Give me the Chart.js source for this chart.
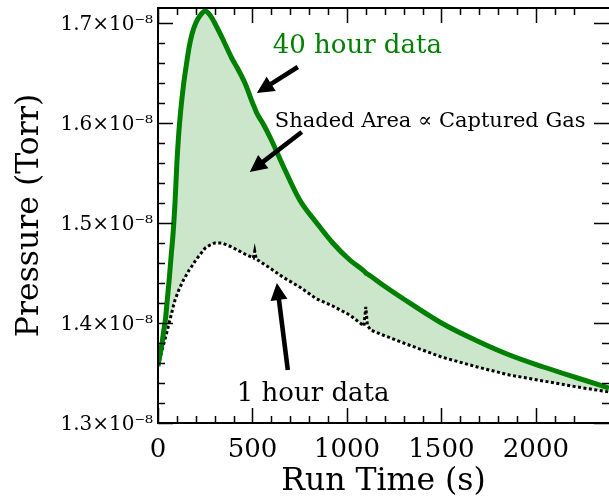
<!DOCTYPE html>
<html><head><meta charset="utf-8">
<script src="https://cdn.jsdelivr.net/npm/chart.js@4.4.1/dist/chart.umd.min.js"></script>
<style>html,body{margin:0;padding:0;background:#fff;}</style>
</head><body>
<canvas id="c" width="609" height="498"></canvas>
<script>
// Run time (s)
const runTime = [0,10,20,30,40,50,60,70,80,90,
  100,110,120,135,150,165,180,200,225,250,
  275,300,340,390,420,460,505,512,520,560,
  600,660,750,840,925,1015,1090,1100,1108,1125,
  1190,1300,1500,1690,1860,2040,2220,2387];
// Pressure, 40 hour data (×10^-8 Torr)
const pressure40h = [1.357,1.368,1.378,1.392,1.405,1.425,1.445,1.468,1.490,1.520,
  1.560,1.590,1.612,1.638,1.658,1.676,1.689,1.700,1.708,1.712,
  1.708,1.700,1.685,1.665,1.655,1.640,1.618,1.615,1.611,1.598,
  1.583,1.558,1.523,1.500,1.480,1.463,1.452,1.450,1.449,1.447,
  1.438,1.424,1.400,1.382,1.368,1.356,1.345,1.335];
// Pressure, 1 hour data (×10^-8 Torr)
const pressure1h = [1.357,1.364,1.372,1.379,1.386,1.393,1.401,1.408,1.416,1.423,
  1.428,1.433,1.437,1.443,1.448,1.453,1.457,1.463,1.469,1.475,
  1.478,1.480,1.480,1.476,1.473,1.469,1.465,1.472,1.464,1.459,
  1.454,1.446,1.436,1.424,1.417,1.408,1.397,1.416,1.398,1.393,
  1.388,1.380,1.366,1.356,1.348,1.342,1.336,1.331];

const xMajorTicks = [0,500,1000,1500,2000];
const xTickLabels = ['0','500','1000','1500','2000'];
const yMajorTicks = [1.3,1.4,1.5,1.6,1.7];
const yTickLabels = ['1.3×10⁻⁸','1.4×10⁻⁸','1.5×10⁻⁸','1.6×10⁻⁸','1.7×10⁻⁸'];

const notes = [
  {text:'40 hour data', t:607, p:1.670, color:'#008000', size:26},
  {text:'Shaded Area ∝ Captured Gas', t:618, p:1.596, color:'#000000', size:21},
  {text:'1 hour data', t:417, p:1.322, color:'#000000', size:26}
];
const arrows = [
  {from:[740,1.656], to:[523,1.630]},
  {from:[761,1.591], to:[486,1.551]},
  {from:[687,1.353], to:[629,1.440]}
];

const FONT = 'DejaVu Serif';
const near = (v, list) => list.findIndex(m => Math.abs(m - v) < 1e-6);

const framePlugin = {
  id: 'frame',
  afterDatasetsDraw(chart) {
    const {ctx, chartArea: a, scales: {x, y}} = chart;
    ctx.save();
    ctx.strokeStyle = '#000';
    ctx.lineWidth = 1.5;
    ctx.beginPath();
    x.ticks.forEach(t => {
      const px = Math.round(x.getPixelForValue(t.value)) + 0.5;
      const L = near(t.value, xMajorTicks) >= 0 ? 15 : 7;
      ctx.moveTo(px, a.bottom); ctx.lineTo(px, a.bottom - L);
      ctx.moveTo(px, a.top); ctx.lineTo(px, a.top + L);
    });
    y.ticks.forEach(t => {
      const py = Math.round(y.getPixelForValue(t.value)) + 0.5;
      const L = near(t.value, yMajorTicks) >= 0 ? 15 : 7;
      ctx.moveTo(a.left, py); ctx.lineTo(a.left + L, py);
      ctx.moveTo(a.right, py); ctx.lineTo(a.right - L, py);
    });
    ctx.stroke();
    ctx.lineWidth = 2;
    ctx.beginPath();
    ctx.moveTo(a.right + 5, a.top); ctx.lineTo(a.left, a.top);
    ctx.lineTo(a.left, a.bottom); ctx.lineTo(a.right + 5, a.bottom);
    ctx.stroke();
    // tick labels
    ctx.fillStyle = '#000';
    ctx.textBaseline = 'alphabetic';
    ctx.font = '20px "' + FONT + '"';
    ctx.textAlign = 'right';
    yMajorTicks.forEach((v, i) => ctx.fillText(yTickLabels[i], a.left - 5, y.getPixelForValue(v) + 7));
    ctx.font = '26px "' + FONT + '"';
    ctx.textAlign = 'center';
    xMajorTicks.forEach((v, i) => ctx.fillText(xTickLabels[i], x.getPixelForValue(v), a.bottom + 34));
    // arrows
    arrows.forEach(ar => {
      const x1 = x.getPixelForValue(ar.from[0]), y1 = y.getPixelForValue(ar.from[1]);
      const x2 = x.getPixelForValue(ar.to[0]), y2 = y.getPixelForValue(ar.to[1]);
      const ang = Math.atan2(y2 - y1, x2 - x1);
      const len = Math.hypot(x2 - x1, y2 - y1);
      const hl = 17, hw = 8.5, sw = 2.3;
      ctx.save();
      ctx.translate(x1, y1); ctx.rotate(ang);
      ctx.beginPath();
      ctx.moveTo(0, -sw); ctx.lineTo(len - hl, -sw); ctx.lineTo(len - hl, -hw);
      ctx.lineTo(len, 0); ctx.lineTo(len - hl, hw); ctx.lineTo(len - hl, sw); ctx.lineTo(0, sw);
      ctx.closePath(); ctx.fill();
      ctx.restore();
    });
    // notes
    ctx.textAlign = 'left';
    notes.forEach(n => {
      ctx.font = n.size + 'px "' + FONT + '"';
      ctx.fillStyle = n.color;
      ctx.fillText(n.text, x.getPixelForValue(n.t), y.getPixelForValue(n.p));
    });
    ctx.restore();
  }
};

new Chart(document.getElementById('c'), {
  type: 'scatter',
  data: {
    datasets: [
      {
        label: '40 hour data',
        data: runTime.map((t, i) => ({x: t, y: pressure40h[i]})),
        showLine: true,
        borderColor: '#008000',
        borderWidth: 5,
        pointRadius: 0,
        cubicInterpolationMode: 'monotone',
        backgroundColor: 'rgba(0,128,0,0.2)',
        fill: '+1'
      },
      {
        label: '1 hour data',
        data: runTime.map((t, i) => ({x: t, y: pressure1h[i]})),
        showLine: true,
        borderColor: '#000000',
        borderWidth: 3,
        borderDash: [3, 2.5],
        pointRadius: 0,
        tension: 0,
        fill: false
      }
    ]
  },
  options: {
    responsive: false,
    animation: false,
    devicePixelRatio: 1,
    layout: {padding: {left: 0, right: 0, top: 8, bottom: 0}},
    plugins: {
      legend: {display: false},
      tooltip: {enabled: false},
      filler: {drawTime: 'beforeDatasetsDraw'}
    },
    scales: {
      x: {
        type: 'linear', min: 0, max: 2387,
        grid: {display: false, drawTicks: false},
        border: {display: false},
        afterBuildTicks: s => { s.ticks = s.ticks.filter(t => Math.abs(t.value / 100 - Math.round(t.value / 100)) < 1e-6); },
        afterFit: s => { s.height = 75; },
        ticks: {stepSize: 100, autoSkip: false, display: false},
        title: {display: true, text: 'Run Time (s)', color: '#000',
          font: {family: FONT, size: 31.5, lineHeight: 1.0}, padding: {top: 0, bottom: 0}}
      },
      y: {
        type: 'linear', min: 1.3, max: 1.715,
        grid: {display: false, drawTicks: false},
        border: {display: false},
        afterBuildTicks: s => { s.ticks = s.ticks.filter(t => Math.abs(t.value / 0.02 - Math.round(t.value / 0.02)) < 1e-6 && t.value < 1.7101); },
        afterFit: s => { s.width = 158; },
        ticks: {stepSize: 0.02, autoSkip: false, display: false},
        title: {display: true, text: 'Pressure (Torr)', color: '#000',
          font: {family: FONT, size: 31.5, lineHeight: 1.0}, padding: {top: 14, bottom: 0}}
      }
    }
  },
  plugins: [framePlugin]
});
</script>
</body></html>
